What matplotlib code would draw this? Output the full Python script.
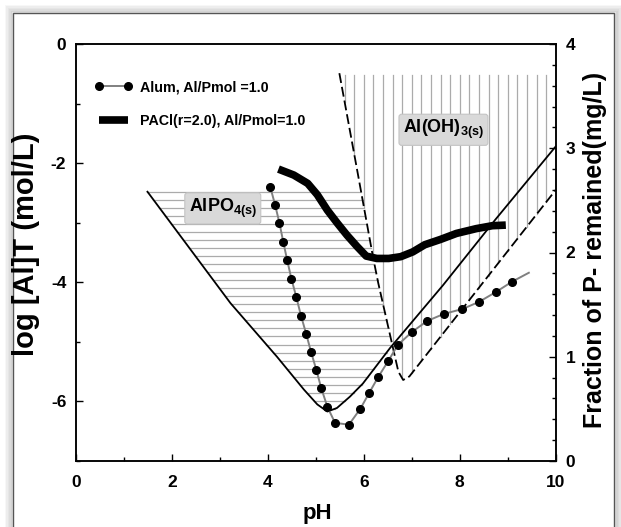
import numpy as np
import matplotlib.pyplot as plt
from matplotlib.lines import Line2D
from matplotlib.patches import Rectangle
from matplotlib.ticker import MultipleLocator

plt.rcParams['font.family'] = ['Liberation Sans', 'DejaVu Sans']
plt.rcParams['font.weight'] = 'bold'
plt.rcParams['axes.unicode_minus'] = False
plt.rcParams['mathtext.fontset'] = 'custom'
plt.rcParams['mathtext.rm'] = 'Liberation Sans:bold'
plt.rcParams['mathtext.bf'] = 'Liberation Sans:bold'
plt.rcParams['mathtext.default'] = 'rm'

# AlPO4 / Al(OH)3 solubility boundary (solid line)
solid_ph = [1.49, 3.22, 4.19, 4.75, 5.03, 5.24, 5.44, 5.71, 5.98, 6.55, 7.65, 8.74, 10.0]
solid_log = [-2.48, -4.35, -5.25, -5.80, -6.05, -6.17, -6.11, -5.92, -5.70, -5.10, -4.05, -2.95, -1.72]

# Al(OH)3 boundary (dashed V)
dash_ph = [5.49, 5.88, 6.19, 6.30, 6.72, 6.82, 6.95, 10.0]
dash_log = [-0.49, -2.20, -3.57, -4.01, -5.50, -5.64, -5.58, -2.45]

# Alum, Al/Pmol = 1.0
alum_ph = [4.05, 4.15, 4.24, 4.32, 4.40, 4.49, 4.59, 4.69, 4.80, 4.90, 5.01, 5.11,
           5.24, 5.40, 5.69, 5.93, 6.11, 6.30, 6.51, 6.71, 7.01, 7.32, 7.67, 8.05,
           8.40, 8.76, 9.09]
alum_log = [-2.40, -2.70, -3.00, -3.32, -3.62, -3.94, -4.24, -4.56, -4.87, -5.17, -5.47, -5.77,
            -6.09, -6.36, -6.39, -6.12, -5.86, -5.59, -5.32, -5.05, -4.83, -4.65, -4.53, -4.45,
            -4.33, -4.16, -3.99]
alum_fit_end = (9.44, -3.84)

# PACl(r=2.0), Al/Pmol = 1.0
pacl_ph = [4.22, 4.54, 4.83, 5.03, 5.24, 5.45, 5.65, 5.86, 6.05, 6.27, 6.52, 6.77,
           7.02, 7.27, 7.60, 7.93, 8.34, 8.68, 8.96]
pacl_log = [-2.10, -2.20, -2.34, -2.53, -2.79, -3.01, -3.21, -3.40, -3.56, -3.60, -3.60, -3.57,
            -3.49, -3.37, -3.28, -3.18, -3.10, -3.05, -3.04]

fig = plt.figure(figsize=(6.21, 5.27), dpi=100)

# framed panel with a soft shadow
for i, a in enumerate([0.10, 0.08, 0.06, 0.04, 0.03]):
    d = (i + 1) * 1.5
    fig.patches.append(Rectangle(((13 - d) / 621, -0.05), (601 + 2 * d) / 621, (514 + d) / 527 + 0.05,
                                 transform=fig.transFigure, facecolor='none',
                                 edgecolor='black', lw=2.2, alpha=a, zorder=0))
fig.patches.append(Rectangle((13 / 621, -0.05), 601 / 621, 514 / 527 + 0.05,
                             transform=fig.transFigure, facecolor='white',
                             edgecolor='#555555', lw=1.0, zorder=1))

ax = fig.add_axes([76 / 621, 1 - 461 / 527, 479.7 / 621, 417 / 527])
ax.set_zorder(2)
ax.patch.set_visible(False)

# AlPO4(s) region: horizontal hatch
imin = int(np.argmin(solid_log))
left_ph, left_log = solid_ph[:imin + 1], solid_log[:imin + 1]
right_ph, right_log = solid_ph[imin:], solid_log[imin:]
d1_ph, d1_log = dash_ph[:5], dash_log[:5]
for y in np.arange(solid_log[0], min(solid_log), -0.135):
    xl = np.interp(y, left_log[::-1], left_ph[::-1])
    xr = min(np.interp(y, d1_log[::-1], d1_ph[::-1]), np.interp(y, right_log, right_ph))
    if xr > xl:
        ax.plot([xl, xr], [y, y], color='#ababab', lw=0.9, zorder=1)

# Al(OH)3(s) region: vertical hatch
for x in np.arange(5.6, 9.85, 0.2):
    yb = np.interp(x, dash_ph, dash_log)
    ax.plot([x, x], [-0.52, yb], color='#ababab', lw=0.9, zorder=1)

ax.plot(solid_ph, solid_log, color='black', lw=1.3, zorder=3)
ax.plot(dash_ph, dash_log, color='black', lw=1.3, dashes=(5.5, 2.2), zorder=3)

ax.plot(pacl_ph, pacl_log, color='black', lw=5.5, solid_capstyle='butt', zorder=4)
ax.plot(alum_ph + [alum_fit_end[0]], alum_log + [alum_fit_end[1]], color='#808080', lw=1.4, zorder=5)
ax.plot(alum_ph, alum_log, 'o', color='black', ms=5.5, zorder=6)

box = dict(boxstyle='round,pad=0.22,rounding_size=0.15', facecolor='#d9d9d9', edgecolor='#c4c4c4', lw=0.8)
ax.text(3.06, -2.76, 'AlPO$_{4(s)}$', fontsize=13, fontweight='bold', ha='center', va='center',
        bbox=box, zorder=7)
ax.text(7.66, -1.44, 'Al(OH)$_{3(s)}$', fontsize=13, fontweight='bold', ha='center', va='center',
        bbox=box, zorder=7)

handles = [Line2D([], [], color='#808080', lw=1.4, marker='o', mfc='black', mec='black', ms=5.5),
           Line2D([], [], color='black', lw=5.5, solid_capstyle='butt')]
labels = ['Alum, Al/Pmol =1.0', 'PACl(r=2.0), Al/Pmol=1.0']
ax.legend(handles, labels, loc='upper left', bbox_to_anchor=(0.039, 0.9125), frameon=False,
          numpoints=2, handlelength=2.63, handletextpad=0.54, labelspacing=1.33,
          borderpad=0, borderaxespad=0, prop=dict(size=10.3, weight='bold'))

ax.set_xlim(0, 10)
ax.set_ylim(-7, 0)
ax.xaxis.set_major_locator(MultipleLocator(2))
ax.xaxis.set_minor_locator(MultipleLocator(1))
ax.yaxis.set_major_locator(MultipleLocator(2))
ax.yaxis.set_minor_locator(MultipleLocator(1))
ax.set_yticks([0, -2, -4, -6])
ax.set_yticklabels(['0', '-2', '-4', '-6'])
ax.tick_params(which='both', direction='in', top=False, right=False, labelsize=12.5, pad=7)
ax.tick_params(axis='x', pad=10)
ax.tick_params(which='major', length=5, width=1)
ax.tick_params(which='minor', length=3, width=1)
for lab in ax.get_xticklabels() + ax.get_yticklabels():
    lab.set_fontweight('bold')
for s in ax.spines.values():
    s.set_linewidth(1.1)

ax.set_xlabel('pH', fontsize=16, fontweight='bold')
ax.set_ylabel('log [Al]T (mol/L)', fontsize=21, fontweight='bold')
ax.xaxis.set_label_coords(0.504, -0.10)
ax.yaxis.set_label_coords(-0.075, 0.52)

ax2 = ax.twinx()
ax2.set_ylim(0, 4)
ax2.yaxis.set_major_locator(MultipleLocator(1))
ax2.yaxis.set_minor_locator(MultipleLocator(0.2))
ax2.tick_params(which='both', direction='in', labelsize=12.5, pad=7)
ax2.tick_params(which='major', length=5, width=1)
ax2.tick_params(which='minor', length=3, width=1)
for lab in ax2.get_yticklabels():
    lab.set_fontweight('bold')
ax2.set_ylabel('Fraction of P- remained(mg/L)', fontsize=18, fontweight='bold')
ax2.yaxis.set_label_coords(1.057, 0.505)
for s in ax2.spines.values():
    s.set_linewidth(1.1)

fig.savefig('out.png', dpi=100)
